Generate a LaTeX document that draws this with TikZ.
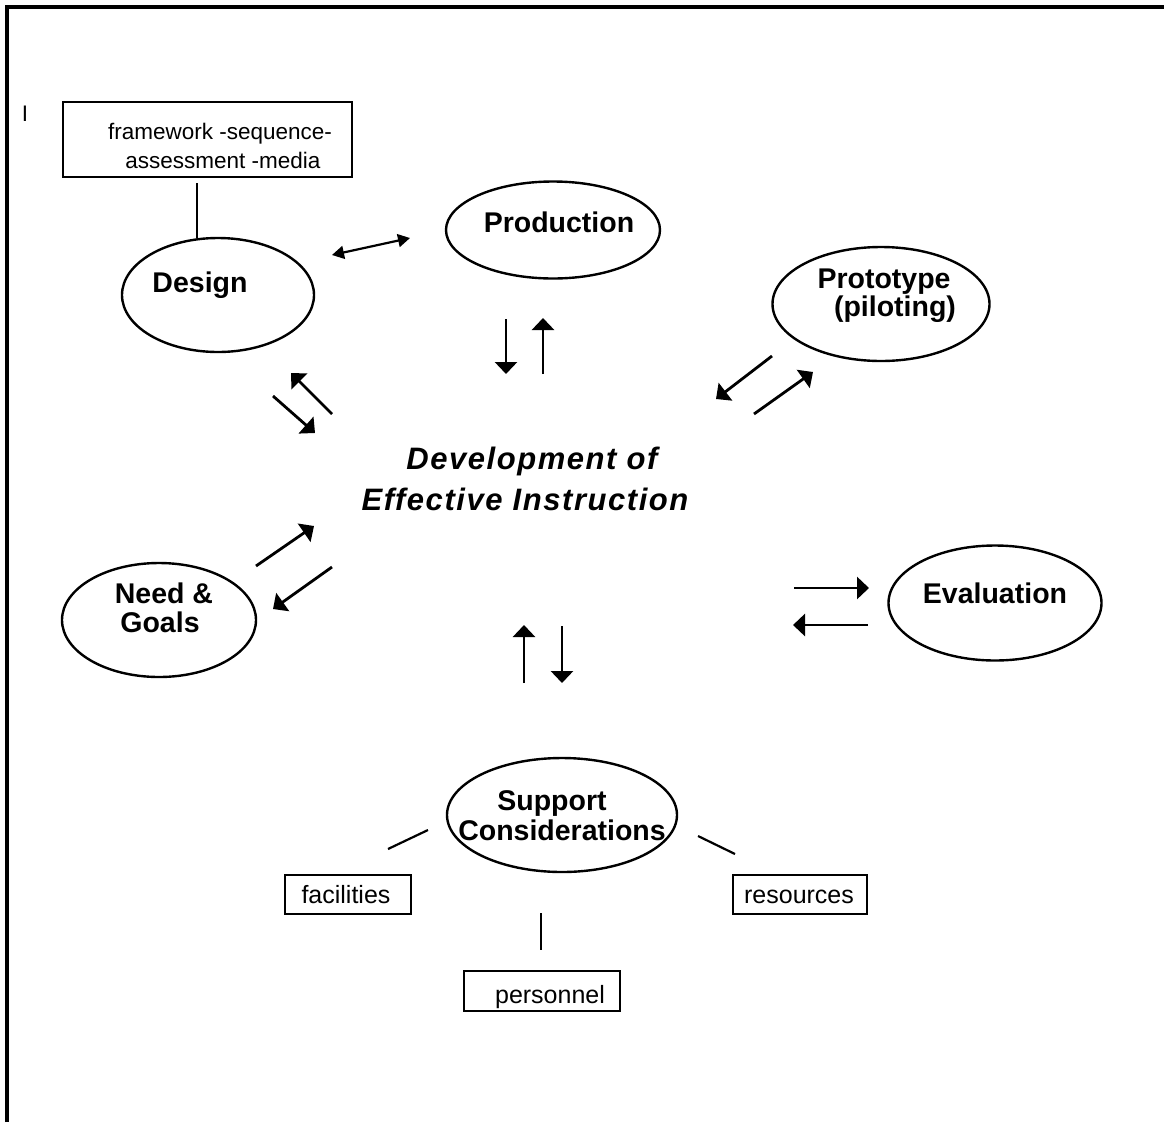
\documentclass[tikz,border=0pt]{standalone}
\usepackage{fontspec}
\setmainfont{Liberation Sans}
\newfontfamily\ctrfont[LetterSpace=5]{Liberation Sans}
\usetikzlibrary{shapes.geometric,arrows.meta}
\tikzset{
  oval/.style={ellipse, draw, line width=2.4pt, inner sep=0pt},
  lbl/.style={font=\fontsize{28.5}{29}\selectfont\bfseries, inner sep=0pt, anchor=base},
  ctr/.style={font=\fontsize{31}{32}\selectfont\ctrfont\bfseries\itshape, inner sep=0pt, anchor=base},
  sm/.style={font=\fontsize{22.5}{29}\selectfont, inner sep=0pt, anchor=base},
  bt/.style={font=\fontsize{25}{29}\selectfont, inner sep=0pt, anchor=base},
  boxx/.style={draw, line width=2.4pt, inner sep=0pt},
  arr/.style={line width=2.8pt, -{Triangle[length=12pt,width=22pt]}},
  darr/.style={line width=2.2pt, {Triangle[length=12pt,width=13pt]}-{Triangle[length=12pt,width=13pt]}},
  ln/.style={line width=2.2pt}
}
\begin{document}
\begin{tikzpicture}[x=1pt,y=-1pt]
\useasboundingbox (0,0) rectangle (1164,1122);
% frame
\coordinate (fbl) at (7,1122);
\coordinate (ftl) at (7,7);
\coordinate (ftr) at (1164,7);
\draw[line width=3.5pt] (fbl) -- (ftl) -- (ftr);

% ellipses
\node[oval, minimum width=192pt, minimum height=114pt] (design) at (218,295) {};
\node[oval, minimum width=214pt, minimum height=97pt] (production) at (553,230) {};
\node[oval, minimum width=217pt, minimum height=114pt] (prototype) at (881,304) {};
\node[oval, minimum width=213pt, minimum height=115pt] (evaluation) at (995,603) {};
\node[oval, minimum width=194pt, minimum height=114pt] (need) at (159,620) {};
\node[oval, minimum width=230pt, minimum height=114pt] (support) at (562,815) {};

% ellipse labels
\node[lbl] (designtxt) at (200,292) {Design};
\node[lbl] (productiontxt) at (559,232) {Production};
\node[lbl] (prototypetxt) at (884,288) {Prototype};
\node[lbl] (pilotingtxt) at (895,316) {(piloting)};
\node[lbl] (evaluationtxt) at (995,603) {Evaluation};
\node[lbl] (needtxt) at (164,603) {Need \&};
\node[lbl] (goalstxt) at (160,632) {Goals};
\node[lbl] (supporttxt) at (552,810) {Support};
\node[lbl] (considtxt) at (562,840) {Considerations};

% centre
\node[ctr] (dev) at (532,469) {Development of};
\node[ctr] (eff) at (525,510) {Effective Instruction};

% framework box
\node[sm] (mark) at (25,121) {I};
\node[boxx, minimum width=289pt, minimum height=75pt] (fw) at (207.5,139.5) {};
\node[sm] (fw1) at (220,139) {framework -sequence-};
\node[sm] (fw2) at (223,168) {assessment -media};
\coordinate (fwl1) at (197,183);
\coordinate (fwl2) at (197,238);
\draw[ln] (fwl1) -- (fwl2);

% support boxes
\node[boxx, minimum width=126pt, minimum height=39pt] (facbox) at (348,894.5) {};
\node[bt] (factxt) at (346,903) {facilities};
\node[boxx, minimum width=134pt, minimum height=39pt] (resbox) at (800,894.5) {};
\node[bt] (restxt) at (799,903) {resources};
\node[boxx, minimum width=156pt, minimum height=40pt] (perbox) at (542,991) {};
\node[bt] (pertxt) at (550,1003) {personnel};

\coordinate (fa1) at (388,849);
\coordinate (fa2) at (428,830);
\draw[ln] (fa1) -- (fa2);
\coordinate (ra1) at (698,836);
\coordinate (ra2) at (735,854);
\draw[ln] (ra1) -- (ra2);
\coordinate (pa1) at (541,913);
\coordinate (pa2) at (541,950);
\draw[ln] (pa1) -- (pa2);

% arrows
\coordinate (dp1) at (332,255);
\coordinate (dp2) at (410,238);
\draw[darr] (dp1) -- (dp2);

\coordinate (pd1) at (506,319);
\coordinate (pd2) at (506,374);
\draw[arr] (pd1) -- (pd2);
\coordinate (pu1) at (543,374);
\coordinate (pu2) at (543,318);
\draw[arr] (pu1) -- (pu2);

\coordinate (du1) at (332,414);
\coordinate (du2) at (291,373);
\draw[arr] (du1) -- (du2);
\coordinate (dd1) at (273,396);
\coordinate (dd2) at (315,433);
\draw[arr] (dd1) -- (dd2);

\coordinate (tl1) at (772,356);
\coordinate (tl2) at (716,399);
\draw[arr] (tl1) -- (tl2);
\coordinate (tr1) at (754,414);
\coordinate (tr2) at (813,372);
\draw[arr] (tr1) -- (tr2);

\coordinate (er1) at (794,588);
\coordinate (er2) at (869,588);
\draw[arr] (er1) -- (er2);
\coordinate (el1) at (868,625);
\coordinate (el2) at (793,625);
\draw[arr] (el1) -- (el2);

\coordinate (nu1) at (256,566);
\coordinate (nu2) at (314,526);
\draw[arr] (nu1) -- (nu2);
\coordinate (nd1) at (332,567);
\coordinate (nd2) at (273,609);
\draw[arr] (nd1) -- (nd2);

\coordinate (su1) at (524,683);
\coordinate (su2) at (524,625);
\draw[arr] (su1) -- (su2);
\coordinate (sd1) at (562,626);
\coordinate (sd2) at (562,683);
\draw[arr] (sd1) -- (sd2);
\end{tikzpicture}
\end{document}
